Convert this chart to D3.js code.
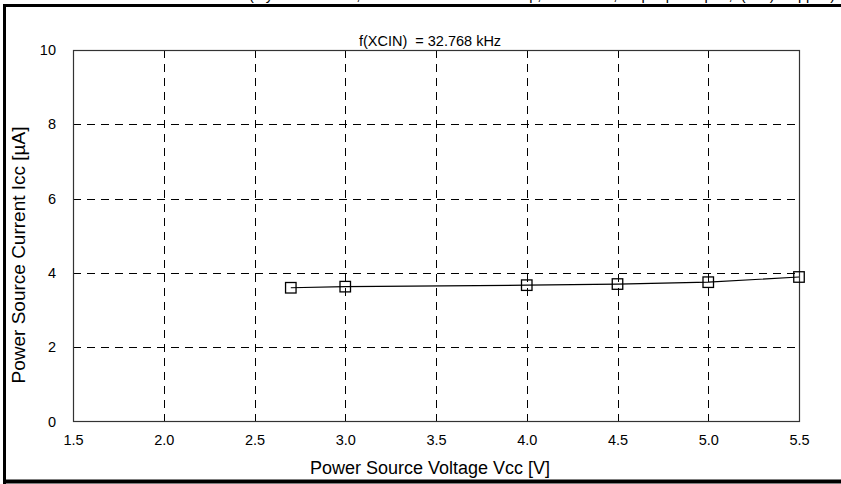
<!DOCTYPE html>
<html>
<head>
<meta charset="utf-8">
<script src="https://cdn.jsdelivr.net/npm/d3@7"></script>
<style>
  html, body { margin: 0; padding: 0; background: #fff; }
  svg { display: block; font-family: "Liberation Sans", Arial, sans-serif; }
</style>
</head>
<body>
<svg id="chart" width="841" height="484"></svg>
<script>
// Supply voltage vs. supply current, measured at f(XCIN) = 32.768 kHz
const voltage = [2.7, 3.0, 4.0, 4.5, 5.0, 5.5];
const current = [3.60, 3.63, 3.67, 3.70, 3.75, 3.89];
const xTicks = [1.5, 2.0, 2.5, 3.0, 3.5, 4.0, 4.5, 5.0, 5.5];
const yTicks = [0, 2, 4, 6, 8, 10];
const headerText = "Measurement condition: wait mode (crystal oscillator, XCIN-XCOUT external cap, Ta = 25 °C, output pins open, f(XIN) stopped)";

const svg = d3.select("#chart");
const W = 841, H = 484;
const m = { left: 73, right: 799, top: 50, bottom: 421.5 };

const x = d3.scaleLinear().domain([1.5, 5.5]).range([m.left, m.right]);
const y = d3.scaleLinear().domain([0, 10]).range([m.bottom, m.top]);

// Header line, running off the top of the page
svg.append("text")
  .attr("x", 20).attr("y", 0)
  .attr("font-size", 15)
  .attr("textLength", 815)
  .attr("lengthAdjust", "spacingAndGlyphs")
  .attr("fill", "#000")
  .text(headerText);

// Outer frame
svg.append("line").attr("x1", 3).attr("x2", W).attr("y1", 5.5).attr("y2", 5.5)
  .attr("stroke", "#000").attr("stroke-width", 3);
svg.append("line").attr("x1", 4.5).attr("x2", 4.5).attr("y1", 4).attr("y2", H)
  .attr("stroke", "#000").attr("stroke-width", 3);
svg.append("line").attr("x1", 3).attr("x2", W).attr("y1", 481.5).attr("y2", 481.5)
  .attr("stroke", "#000").attr("stroke-width", 4);

// Dashed grid
const grid = svg.append("g").attr("stroke", "#000").attr("stroke-width", 1)
  .attr("stroke-dasharray", "8,6");
grid.selectAll("line.v").data(xTicks.slice(1, -1)).join("line")
  .attr("class", "v")
  .attr("x1", d => Math.round(x(d)) + 0.5).attr("x2", d => Math.round(x(d)) + 0.5)
  .attr("y1", m.top).attr("y2", m.bottom);
grid.selectAll("line.h").data(yTicks.slice(1, -1)).join("line")
  .attr("class", "h")
  .attr("y1", d => Math.round(y(d)) + 0.5).attr("y2", d => Math.round(y(d)) + 0.5)
  .attr("x1", m.left).attr("x2", m.right);

// Plot frame
svg.append("rect")
  .attr("x", m.left + 0.5).attr("y", m.top + 0.5)
  .attr("width", m.right - m.left).attr("height", m.bottom - m.top - 0.5)
  .attr("fill", "none").attr("stroke", "#333").attr("stroke-width", 1.2);

// Axes (labels only)
const xAxis = svg.append("g").attr("transform", `translate(0,${m.bottom})`)
  .call(d3.axisBottom(x).tickValues(xTicks).tickFormat(d3.format(".1f")).tickSize(0).tickPadding(13));
const yAxis = svg.append("g").attr("transform", `translate(${m.left},0)`)
  .call(d3.axisLeft(y).tickValues(yTicks).tickFormat(d3.format("d")).tickSize(0).tickPadding(17));
[xAxis, yAxis].forEach(a => {
  a.select(".domain").remove();
  a.selectAll("text").attr("font-size", 14.5).attr("fill", "#000")
    .attr("font-family", "'Liberation Sans', Arial, sans-serif");
});

// Axis titles
svg.append("text")
  .attr("x", 430).attr("y", 474)
  .attr("text-anchor", "middle").attr("font-size", 18)
  .text("Power Source Voltage Vcc [V]");
svg.append("text")
  .attr("transform", `translate(25,255) rotate(-90)`)
  .attr("text-anchor", "middle").attr("font-size", 19)
  .text("Power Source Current Icc [µA]");

// Condition note
svg.append("text")
  .attr("x", 430).attr("y", 46)
  .attr("text-anchor", "middle").attr("font-size", 14.5)
  .attr("xml:space", "preserve")
  .text("f(XCIN)  = 32.768 kHz");

// Series
const pts = voltage.map((v, i) => [v, current[i]]);
svg.append("path")
  .datum(pts)
  .attr("fill", "none").attr("stroke", "#000").attr("stroke-width", 1.2)
  .attr("d", d3.line().x(d => x(d[0])).y(d => y(d[1])));

const s = 10.5;
svg.selectAll("rect.mk").data(pts).join("rect")
  .attr("class", "mk")
  .attr("x", d => x(d[0]) - s / 2).attr("y", d => y(d[1]) - s / 2)
  .attr("width", s).attr("height", s)
  .attr("fill", "none").attr("stroke", "#000").attr("stroke-width", 1.3);
</script>
</body>
</html>
